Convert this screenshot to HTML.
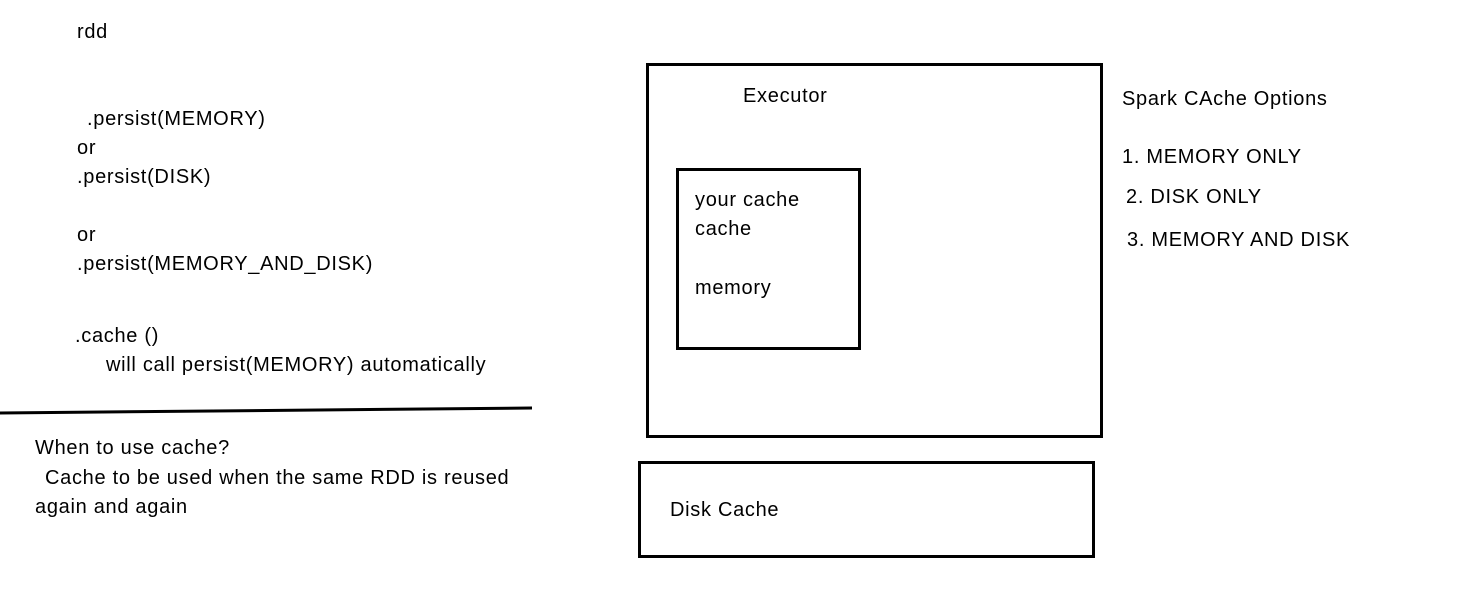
<!DOCTYPE html>
<html><head><meta charset="utf-8"><style>
html,body{margin:0;padding:0;background:#fff;}
body{width:1483px;height:600px;position:relative;overflow:hidden;font-family:"Liberation Sans",sans-serif;font-size:20px;letter-spacing:0.7px;color:#000;}
.t{position:absolute;line-height:24px;white-space:pre;}
.b{position:absolute;border:3px solid #000;box-sizing:border-box;}
</style></head><body>
<div class="t" style="left:77px;top:20px">rdd</div>
<div class="t" style="left:87px;top:107px">.persist(MEMORY)</div>
<div class="t" style="left:77px;top:136px">or</div>
<div class="t" style="left:77px;top:165px">.persist(DISK)</div>
<div class="t" style="left:77px;top:223px">or</div>
<div class="t" style="left:77px;top:252px">.persist(MEMORY_AND_DISK)</div>
<div class="t" style="left:75px;top:324px">.cache ()</div>
<div class="t" style="left:106px;top:353px">will call persist(MEMORY) automatically</div>
<svg style="position:absolute;left:0;top:0" width="1483" height="600"><line x1="0" y1="413" x2="532" y2="408" stroke="#000" stroke-width="3"/></svg>
<div class="t" style="left:35px;top:436px">When to use cache?</div>
<div class="t" style="left:45px;top:466px">Cache to be used when the same RDD is reused</div>
<div class="t" style="left:35px;top:495px">again and again</div>
<div class="b" style="left:646px;top:63px;width:457px;height:375px"></div>
<div class="t" style="left:743px;top:84px">Executor</div>
<div class="b" style="left:676px;top:168px;width:185px;height:182px"></div>
<div class="t" style="left:695px;top:188px">your cache</div>
<div class="t" style="left:695px;top:217px">cache</div>
<div class="t" style="left:695px;top:276px">memory</div>
<div class="b" style="left:638px;top:461px;width:457px;height:97px"></div>
<div class="t" style="left:670px;top:498px">Disk Cache</div>
<div class="t" style="left:1122px;top:87px">Spark CAche Options</div>
<div class="t" style="left:1122px;top:145px">1. MEMORY ONLY</div>
<div class="t" style="left:1126px;top:185px">2. DISK ONLY</div>
<div class="t" style="left:1127px;top:228px">3. MEMORY AND DISK</div>
</body></html>
